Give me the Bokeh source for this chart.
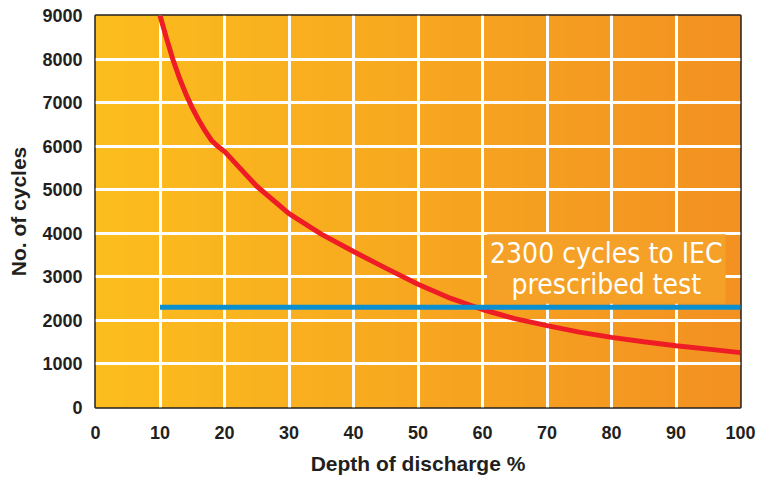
import numpy as np
from bokeh.plotting import figure
from bokeh.models import Range1d, Label, FixedTicker
from bokeh.embed import file_html
from bokeh.resources import INLINE

# Data
depth = [10, 11, 12, 13, 14, 15, 16, 17, 18, 19, 20, 22, 25, 30, 35, 40, 45, 50, 55, 60, 65, 70, 75, 80, 85, 90, 95, 100]
cycles = [9000, 8480, 7990, 7570, 7200, 6880, 6600, 6350, 6130, 5990, 5880, 5560, 5080, 4450, 3980, 3580, 3200, 2830, 2510, 2250, 2040, 1880, 1730, 1610, 1510, 1420, 1340, 1260]
iec_x = [10, 100.3]
iec_y = [2300, 2300]
x_ticks = [0, 10, 20, 30, 40, 50, 60, 70, 80, 90, 100]
y_ticks = [0, 1000, 2000, 3000, 4000, 5000, 6000, 7000, 8000, 9000]
label_text = "2300 cycles to IEC\nprescribed test"

p = figure(width=766, height=478, output_backend="svg", toolbar_location=None,
           x_range=Range1d(0, 100), y_range=Range1d(0, 9000),
           min_border_left=95, min_border_right=26, min_border_top=15, min_border_bottom=71)
p.background_fill_color = "#F8A828"
p.outline_line_color = "#231F20"
p.outline_line_width = 2.5

# gradient background (yellow -> orange)
n = 200
left = np.array([252, 190, 30])
right = np.array([243, 145, 34])
img = np.zeros((1, n), dtype=np.uint32)
view = img.view(dtype=np.uint8).reshape((1, n, 4))
t = np.linspace(0, 1, n)
for i in range(3):
    view[0, :, i] = (left[i] + (right[i] - left[i]) * t).astype(np.uint8)
view[0, :, 3] = 255
r_img = p.image_rgba(image=[img], x=0, y=0, dw=100, dh=9000)
r_img.level = "image"

# grid
p.xgrid.ticker = FixedTicker(ticks=x_ticks[1:-1])
p.ygrid.ticker = FixedTicker(ticks=y_ticks[1:-1])
for g in (p.xgrid, p.ygrid):
    g.grid_line_color = "white"
    g.grid_line_width = 3
    g.grid_line_alpha = 1.0
    g.level = "underlay"

# axes
p.xaxis.ticker = FixedTicker(ticks=x_ticks)
p.yaxis.ticker = FixedTicker(ticks=y_ticks)
for ax in (p.xaxis, p.yaxis):
    ax.axis_line_color = None
    ax.major_tick_line_color = None
    ax.minor_tick_line_color = None
    ax.major_tick_out = 0
    ax.major_tick_in = 0
    ax.minor_tick_out = 0
    ax.minor_tick_in = 0
    ax.major_label_text_font = "Liberation Sans"
    ax.major_label_text_font_style = "bold"
    ax.major_label_text_font_size = "18px"
    ax.major_label_text_color = "#231F20"
    ax.axis_label_text_font = "Liberation Sans"
    ax.axis_label_text_font_style = "bold"
    ax.axis_label_text_font_size = "21px"
    ax.axis_label_text_color = "#231F20"
p.xaxis.major_label_standoff = 18
p.yaxis.major_label_standoff = 13
p.xaxis.axis_label = "Depth of discharge %"
p.yaxis.axis_label = "No. of cycles"
p.xaxis.axis_label_standoff = 10
p.yaxis.axis_label_standoff = 9

# lines
p.line(depth, cycles, line_color="#EE1C25", line_width=5)
p.line(iec_x, iec_y, line_color="#0A8FD0", line_width=5)

lab = Label(x=79.2, y=3180, text=label_text, text_align="center", text_baseline="middle",
            text_font="DejaVu Sans Condensed", text_font_size="28px", text_color="white",
            text_line_height=0.92, background_fill_color="#F5A026", padding=3)
p.add_layout(lab)

open("out.html", "w").write(file_html(p, INLINE))
